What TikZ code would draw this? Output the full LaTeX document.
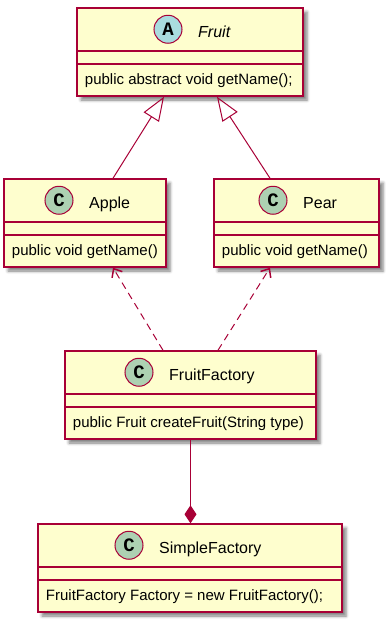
\documentclass[tikz,border=0pt]{standalone}
\usepackage{fontspec}
\setmainfont{Liberation Sans}
\newfontfamily\badgefont{Liberation Mono}
\usetikzlibrary{calc,arrows.meta,shadows.blur}

\definecolor{classfill}{HTML}{FEFECE}
\definecolor{classline}{HTML}{A80036}
\definecolor{badgeC}{HTML}{ADD1B2}
\definecolor{badgeA}{HTML}{A9DCDF}

\tikzset{
  classbox/.style={draw=classline, fill=classfill, line width=1.5pt,
    minimum height=88pt, inner sep=0pt,
    blur shadow={shadow xshift=4pt, shadow yshift=-4pt,
      shadow blur radius=3pt, shadow opacity=50}},
  divider/.style={draw=classline, line width=1.6pt},
  badge/.style={circle, draw=classline, line width=1pt, minimum size=28pt,
    inner sep=0pt, font=\badgefont\bfseries\fontsize{19}{19}\selectfont},
  classtitle/.style={inner sep=0pt, anchor=base west,
    font=\fontsize{16}{19}\selectfont},
  member/.style={inner sep=0pt, anchor=base west,
    font=\fontsize{15}{18}\selectfont},
  link/.style={draw=classline, line width=1pt},
  inherit/.style={link, -{Triangle[open, length=24pt, width=18pt, line width=1pt]}},
  depend/.style={link, dash pattern=on 7pt off 5pt,
    -{Straight Barb[length=7pt, width=12pt, line width=1.5pt]}},
  compose/.style={link, -{Diamond[length=18pt, width=12pt]}},
}

% #1 name, #2 centre x, #3 centre y, #4 width, #5 badge offset,
% #6 badge colour, #7 badge letter, #8 title, #9 member
\newcommand\umlclass[9]{%
  \node[classbox, minimum width=#4] (#1) at (#2,#3) {};
  \draw[divider] ($(#1.north west)+(0,44)$) -- ($(#1.north east)+(0,44)$);
  \draw[divider] ($(#1.north west)+(0,57)$) -- ($(#1.north east)+(0,57)$);
  \node[badge, fill=#6] (#1-badge) at ($(#1.north)+(#5,22)$) {#7};
  \node[classtitle] (#1-title) at ($(#1-badge.center)+(30,8)$) {#8};
  \node[member] (#1-member) at ($(#1.north west)+(8.5,77.5)$) {#9};
}

\begin{document}
\begin{tikzpicture}[x=1pt, y=-1pt]
  \useasboundingbox (0,0) rectangle (386,622);

  \umlclass{fruit}{190}{52}{226}{-22}{badgeA}{A}{\itshape Fruit}{public abstract void getName();}
  \umlclass{apple}{85}{223}{162}{-26}{badgeC}{C}{Apple}{public void getName()}
  \umlclass{pear}{296.5}{223}{165}{-23.5}{badgeC}{C}{Pear}{public void getName()}
  \umlclass{factory}{190.5}{395}{251}{-51.5}{badgeC}{C}{FruitFactory}{public Fruit createFruit(String type)}
  \umlclass{simple}{190}{568}{304}{-61}{badgeC}{C}{SimpleFactory}{FruitFactory Factory = new FruitFactory();}

  % generalisation
  \draw[inherit] ($(apple.north)+(28,0)$) -- ($(fruit.south)+(-26,0)$);
  \draw[inherit] ($(pear.north)+(-26.5,0)$) -- ($(fruit.south)+(27,0)$);

  % dependencies of the factory
  \draw[depend] ($(factory.north)+(-27.5,0)$) -- ($(apple.south)+(28,0)$);
  \draw[depend] ($(factory.north)+(27.5,0)$) -- ($(pear.south)+(-26.5,0)$);

  % composition
  \draw[compose] (factory.south) -- (factory.south |- simple.north);
\end{tikzpicture}
\end{document}
